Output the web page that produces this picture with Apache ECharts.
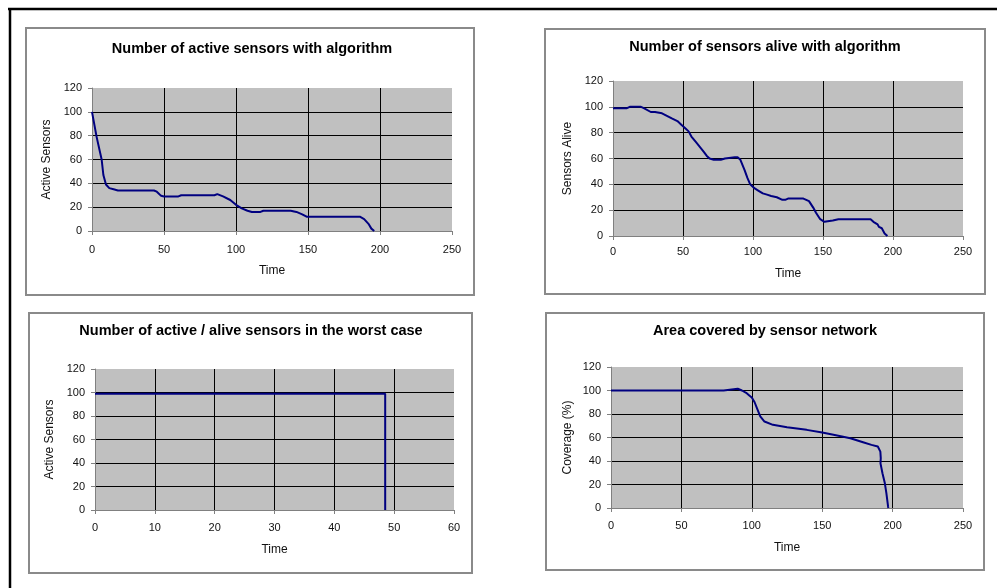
<!DOCTYPE html>
<html>
<head>
<meta charset="utf-8">
<script src="https://cdn.jsdelivr.net/npm/echarts@6/dist/echarts.min.js"></script>
<style>
html,body{margin:0;padding:0;background:#fff;}
#chart{width:997px;height:588px;}
</style>
</head>
<body>
<div id="chart"></div>
<script>
// ---- Data ----
var titles = [
  'Number of active sensors with algorithm',
  'Number of sensors alive with algorithm',
  'Number of active / alive sensors in the worst case',
  'Area covered by sensor network'
];
var yNames = ['Active Sensors', 'Sensors Alive', 'Active Sensors', 'Coverage (%)'];
var xName = 'Time';

// Panel 1: active sensors with algorithm
var time1   = [0, 3.2, 6.7, 7.9, 9.7, 12, 15, 18, 43, 45, 48, 50, 60, 62, 85, 87, 91, 96, 100, 104, 108, 111, 117, 119, 138, 142, 146, 149, 186, 189, 192, 194, 196];
var active1 = [100, 79, 60, 47, 39, 36, 35, 34, 34, 33, 29.5, 29, 29, 30, 30, 31, 29, 26, 22, 19, 17, 16, 16, 17, 17, 16, 14, 12, 12, 10, 6, 2, 0];

// Panel 2: sensors alive with algorithm
var time2  = [0, 10, 12, 20, 22, 27, 30, 35, 42, 46, 49, 52, 54, 56, 59, 62, 65, 67, 69, 72, 77, 80, 87, 89, 91, 94, 96, 98, 101, 104, 107, 110, 113, 117, 121, 123, 125, 136, 138, 140, 143, 145, 148, 151, 157, 161, 184, 186, 189, 190, 192, 194, 196];
var alive2 = [99, 99, 100, 100, 99, 96, 96, 95, 91, 89, 86, 83, 81, 77, 73, 69, 65, 62, 60, 59, 59, 60, 61, 61, 59, 51, 45, 40, 37, 35, 33, 32, 31, 30, 28, 28, 29, 29, 28, 27, 22, 18, 13, 11, 12, 13, 13, 11, 9, 7, 6, 2, 0];

// Panel 3: worst case
var time3  = [0, 48.5, 48.5];
var worst3 = [99, 99, 0];

// Panel 4: coverage
var time4 = [0, 80, 81, 90, 93, 96, 98, 100, 102, 104, 106, 109, 115, 125, 139, 150, 158, 170, 179, 185, 189.5, 191.3, 191.6, 191.4, 192.8, 194.5, 195.6, 196.8, 197];
var cov4  = [100, 100, 101.5, 101.5, 100, 98, 96, 94, 90, 84, 78, 73.6, 70.8, 68.8, 66.5, 64.2, 62.3, 59.4, 56, 53.7, 52.3, 48, 42.4, 38, 29.6, 21, 12.5, 1.1, 0];

var xMax = [250, 250, 60, 250];
var xInterval = [50, 50, 10, 50];
var yMax = 120, yInterval = 20;

// ---- Layout ----
var grids = [
  {left: 92,  top: 88,  width: 360, height: 143},
  {left: 613, top: 81,  width: 350, height: 155},
  {left: 95,  top: 369, width: 359, height: 141},
  {left: 611, top: 367, width: 352, height: 141}
];
var boxes = [
  {x: 26,  y: 28,  w: 448, h: 267},
  {x: 545, y: 29,  w: 440, h: 265},
  {x: 29,  y: 313, w: 443, h: 260},
  {x: 546, y: 313, w: 438, h: 257}
];
var titlePos = [[252, 49], [765, 47], [251, 331], [765, 331]];
var yNameGap = [39, 39, 39, 37];
var xNameGap = [34, 32, 34, 34];
var xLabelMargin = [13, 10, 12, 12];

var seriesData = [
  time1.map(function (t, i) { return [t, active1[i]]; }),
  time2.map(function (t, i) { return [t, alive2[i]]; }),
  time3.map(function (t, i) { return [t, worst3[i]]; }),
  time4.map(function (t, i) { return [t, cov4[i]]; })
];

var FONT = 'Liberation Sans, Arial, sans-serif';
var axisGray = '#808080';

var option = {
  animation: false,
  backgroundColor: '#ffffff',
  title: titles.map(function (t, i) {
    return {
      text: t, left: titlePos[i][0], top: titlePos[i][1], padding: 0,
      textAlign: 'center', textVerticalAlign: 'middle',
      textStyle: {fontFamily: FONT, fontSize: 14.5, fontWeight: 'bold', color: '#000'}
    };
  }),
  grid: grids.map(function (g) {
    return {left: g.left, top: g.top, width: g.width, height: g.height,
      show: true, backgroundColor: '#c0c0c0', borderWidth: 0, containLabel: false};
  }),
  xAxis: grids.map(function (g, i) {
    return {
      type: 'value', gridIndex: i, min: 0, max: xMax[i], interval: xInterval[i],
      name: xName, nameLocation: 'middle', nameGap: xNameGap[i],
      nameTextStyle: {fontFamily: FONT, fontSize: 12, color: '#111'},
      axisLine: {show: true, onZero: false, lineStyle: {color: axisGray, width: 1}},
      axisTick: {show: true, length: 4, lineStyle: {color: axisGray}},
      axisLabel: {fontFamily: FONT, fontSize: 11, color: '#111', margin: xLabelMargin[i]},
      splitLine: {show: true, showMinLine: false, showMaxLine: false, lineStyle: {color: '#000', width: 1}}
    };
  }),
  yAxis: grids.map(function (g, i) {
    return {
      type: 'value', gridIndex: i, min: 0, max: yMax, interval: yInterval,
      name: yNames[i], nameLocation: 'middle', nameGap: yNameGap[i],
      nameTextStyle: {fontFamily: FONT, fontSize: 12, color: '#111'},
      axisLine: {show: true, onZero: false, lineStyle: {color: axisGray, width: 1}},
      axisTick: {show: true, length: 4, lineStyle: {color: axisGray}},
      axisLabel: {fontFamily: FONT, fontSize: 11, color: '#111', margin: 10},
      splitLine: {show: true, showMinLine: false, showMaxLine: false, lineStyle: {color: '#000', width: 1}}
    };
  }),
  series: seriesData.map(function (d, i) {
    return {
      type: 'line', xAxisIndex: i, yAxisIndex: i, data: d,
      showSymbol: false, symbol: 'none', smooth: false, z: 5,
      lineStyle: {color: '#000080', width: 2}
    };
  }),
  graphic: [
    {type: 'line', z: 100, shape: {x1: 8, y1: 9, x2: 997, y2: 9}, style: {stroke: '#000', lineWidth: 2.5}},
    {type: 'line', z: 100, shape: {x1: 10, y1: 8, x2: 10, y2: 588}, style: {stroke: '#000', lineWidth: 2.5}}
  ].concat(boxes.map(function (b) {
    return {type: 'rect', z: -10, silent: true,
      shape: {x: b.x, y: b.y, width: b.w, height: b.h},
      style: {fill: '#fff', stroke: '#8a8a8a', lineWidth: 2}};
  }))
};

var chart = echarts.init(document.getElementById('chart'), null, {renderer: 'canvas'});
chart.setOption(option);
</script>
</body>
</html>
